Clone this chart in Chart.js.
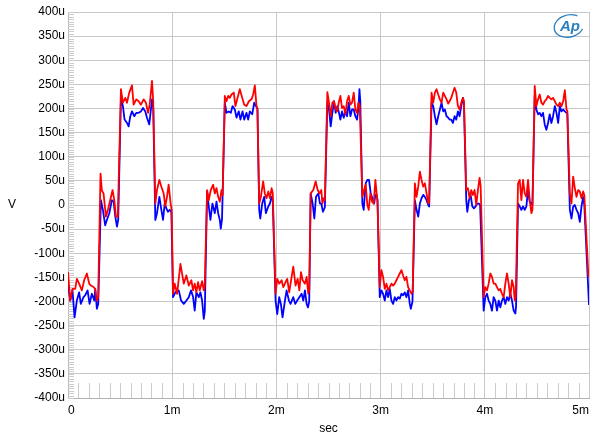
<!DOCTYPE html>
<html>
<head>
<meta charset="utf-8">
<script src="https://cdn.jsdelivr.net/npm/chart.js@4.4.1/dist/chart.umd.min.js"></script>
<style>
  html, body { margin: 0; padding: 0; background: #fff; }
</style>
</head>
<body>
<canvas id="chart" width="600" height="442"></canvas>
<script>
// time in ms, level in uV
const redTime = [
  0.000, 0.021, 0.043, 0.069, 0.085, 0.107, 0.133, 0.155, 0.181, 0.204, 0.220, 0.245, 0.261, 0.277, 0.290,
  0.312, 0.325, 0.341, 0.364, 0.383, 0.405, 0.428, 0.444, 0.460, 0.478,
  0.508, 0.527, 0.550, 0.566, 0.588, 0.614, 0.630, 0.655, 0.678, 0.700, 0.726, 0.748, 0.768, 0.784, 0.806, 0.818,
  0.838, 0.854, 0.877, 0.896, 0.918, 0.934, 0.950, 0.966, 0.985, 0.995,
  1.008, 1.024, 1.047, 1.079, 1.111, 1.136, 1.159, 1.184, 1.200, 1.216, 1.232, 1.248, 1.264, 1.287, 1.303, 1.312,
  1.335, 1.351, 1.370, 1.393, 1.409, 1.425, 1.441, 1.457, 1.473, 1.484,
  1.505, 1.521, 1.537, 1.553, 1.569, 1.591, 1.607, 1.627, 1.649, 1.672, 1.691, 1.713, 1.736, 1.761, 1.777, 1.793, 1.809, 1.818,
  1.835, 1.851, 1.873, 1.889, 1.905, 1.922, 1.938, 1.954, 1.965,
  1.992, 2.008, 2.027, 2.050, 2.066, 2.088, 2.104, 2.123, 2.146, 2.162, 2.184, 2.204, 2.220, 2.236, 2.252, 2.274, 2.290, 2.306, 2.315,
  2.329, 2.354, 2.377, 2.396, 2.415, 2.431, 2.441, 2.454, 2.465,
  2.489, 2.505, 2.521, 2.537, 2.553, 2.566, 2.582, 2.598, 2.614, 2.630, 2.646, 2.662, 2.678, 2.694, 2.710, 2.726, 2.742, 2.758, 2.774, 2.787, 2.800,
  2.825, 2.841, 2.857, 2.873, 2.886, 2.902, 2.918, 2.934, 2.950, 2.963, 2.970,
  2.992, 3.008, 3.024, 3.040, 3.056, 3.072, 3.088, 3.104, 3.120, 3.136, 3.152, 3.168, 3.184, 3.200, 3.216, 3.232, 3.248, 3.264, 3.280, 3.297, 3.308,
  3.329, 3.345, 3.361, 3.377, 3.393, 3.409, 3.425, 3.441, 3.457, 3.466,
  3.489, 3.505, 3.521, 3.537, 3.553, 3.569, 3.585, 3.601, 3.617, 3.633, 3.649, 3.662, 3.678, 3.694, 3.710, 3.726, 3.742, 3.758, 3.774, 3.790, 3.800,
  3.822, 3.838, 3.854, 3.870, 3.886, 3.902, 3.918, 3.934, 3.950, 3.960,
  3.989, 4.005, 4.021, 4.037, 4.053, 4.069, 4.085, 4.101, 4.117, 4.133, 4.149, 4.165, 4.181, 4.197, 4.213, 4.229, 4.245, 4.261, 4.277, 4.287, 4.297,
  4.319, 4.335, 4.351, 4.367, 4.383, 4.399, 4.415, 4.431, 4.447, 4.457,
  4.479, 4.495, 4.511, 4.527, 4.543, 4.559, 4.575, 4.591, 4.607, 4.623, 4.639, 4.655, 4.672, 4.688, 4.704, 4.720, 4.736, 4.752, 4.768, 4.784, 4.792,
  4.816, 4.832, 4.848, 4.864, 4.880, 4.896, 4.912, 4.928, 4.944, 4.955, 4.995
]
const redLevel = [
  -139, -198, -174, -174, -153, -163, -177, -156, -142, -163, -167, -170, -174, -198, -190,
  65, 30, 24, -24, -10, 10, 31, 10, -24, -24,
  240, 212, 222, 212, 233, 248, 208, 219, 215, 208, 219, 212, 191, 208, 257, 215,
  3, 31, 52, 38, 24, -3, 17, 42, 3, -10,
  -184, -163, -184, -122, -163, -146, -167, -156, -177, -163, -181, -160, -177, -158, -177, -170,
  31, 10, 31, 42, 24, 35, 17, 7, 31, 20,
  226, 215, 226, 222, 229, 233, 205, 222, 240, 222, 208, 205, 215, 219, 229, 248, 205, 200,
  3, 17, 49, 24, 14, 28, 14, 35, 25,
  -184, -153, -163, -156, -170, -160, -153, -181, -149, -128, -167, -153, -177, -139, -156, -163, -149, -184, -175,
  24, 31, 49, 31, 24, 31, 3, 14, 10,
  234, 212, 184, 212, 215, 201, 194, 212, 226, 201, 205, 188, 215, 226, 208, 212, 233, 198, 191, 212, 205,
  17, 31, 42, 0, -10, 24, 7, 3, 52, 21, 10,
  -170, -135, -149, -174, -163, -177, -170, -163, -167, -163, -156, -149, -142, -135, -146, -156, -149, -170, -177, -184, -180,
  45, 17, 38, 69, 52, 38, 45, 24, 3, 5,
  233, 212, 233, 240, 229, 219, 212, 233, 226, 219, 210, 215, 222, 233, 243, 233, 205, 198, 212, 222, 215,
  31, 35, 14, 31, 21, 31, 0, 31, 56, 40,
  -191, -170, -177, -163, -142, -149, -163, -163, -170, -177, -174, -184, -191, -163, -142, -163, -191, -156, -170, -198, -190,
  45, 52, 10, 52, 24, 17, 52, 10, -17, -10,
  247, 205, 219, 229, 212, 208, 215, 219, 226, 222, 219, 222, 215, 208, 205, 212, 205, 215, 238, 198, 195,
  24, 3, 59, 35, 17, 31, 28, 14, 28, 20, -150
]

const blueTime = [
  0.000, 0.021, 0.043, 0.063, 0.085, 0.107, 0.123, 0.149, 0.165, 0.188, 0.207, 0.229, 0.252, 0.261, 0.277, 0.290,
  0.316, 0.335, 0.357, 0.373, 0.396, 0.421, 0.438, 0.454, 0.470, 0.482,
  0.508, 0.527, 0.543, 0.566, 0.582, 0.598, 0.614, 0.636, 0.655, 0.678, 0.700, 0.720, 0.742, 0.758, 0.780, 0.806, 0.818,
  0.838, 0.854, 0.877, 0.896, 0.912, 0.928, 0.944, 0.960, 0.976, 0.992,
  1.008, 1.030, 1.063, 1.085, 1.111, 1.136, 1.159, 1.181, 1.200, 1.216, 1.232, 1.255, 1.271, 1.287, 1.303, 1.313,
  1.335, 1.351, 1.367, 1.386, 1.409, 1.425, 1.441, 1.457, 1.466, 1.478,
  1.505, 1.521, 1.543, 1.563, 1.579, 1.601, 1.617, 1.639, 1.655, 1.675, 1.691, 1.713, 1.729, 1.745, 1.768, 1.787, 1.803, 1.818,
  1.835, 1.845, 1.864, 1.883, 1.899, 1.922, 1.938, 1.954, 1.965,
  1.992, 2.008, 2.027, 2.043, 2.059, 2.082, 2.098, 2.120, 2.136, 2.162, 2.181, 2.200, 2.220, 2.242, 2.258, 2.274, 2.290, 2.303, 2.315,
  2.329, 2.348, 2.364, 2.380, 2.402, 2.418, 2.431, 2.447, 2.454, 2.465,
  2.489, 2.505, 2.521, 2.537, 2.553, 2.569, 2.585, 2.601, 2.614, 2.630, 2.646, 2.662, 2.678, 2.694, 2.710, 2.726, 2.742, 2.758, 2.774, 2.787, 2.797, 2.805,
  2.825, 2.838, 2.857, 2.873, 2.889, 2.905, 2.922, 2.938, 2.950, 2.963, 2.970,
  2.992, 3.008, 3.024, 3.040, 3.056, 3.072, 3.088, 3.104, 3.120, 3.136, 3.152, 3.168, 3.184, 3.200, 3.216, 3.232, 3.248, 3.264, 3.280, 3.290, 3.306,
  3.329, 3.345, 3.361, 3.377, 3.393, 3.409, 3.425, 3.441, 3.457, 3.466,
  3.489, 3.505, 3.521, 3.537, 3.553, 3.569, 3.585, 3.601, 3.617, 3.633, 3.649, 3.662, 3.678, 3.694, 3.710, 3.726, 3.742, 3.758, 3.774, 3.790, 3.800,
  3.822, 3.832, 3.848, 3.864, 3.880, 3.896, 3.912, 3.928, 3.944, 3.955,
  3.989, 4.005, 4.021, 4.037, 4.053, 4.069, 4.085, 4.101, 4.117, 4.133, 4.149, 4.165, 4.181, 4.197, 4.213, 4.229, 4.245, 4.261, 4.277, 4.293, 4.300,
  4.319, 4.335, 4.351, 4.367, 4.383, 4.399, 4.415, 4.431, 4.447, 4.457,
  4.479, 4.495, 4.511, 4.527, 4.543, 4.559, 4.575, 4.591, 4.607, 4.623, 4.639, 4.655, 4.672, 4.688, 4.704, 4.720, 4.736, 4.752, 4.768, 4.784, 4.792,
  4.816, 4.832, 4.848, 4.864, 4.880, 4.896, 4.912, 4.928, 4.944, 4.955, 5.000
]
const blueLevel = [
  -163, -198, -177, -233, -198, -181, -205, -191, -187, -177, -205, -184, -198, -174, -215, -205,
  10, -10, -42, -31, -17, 10, 7, -24, -45, -30,
  222, 205, 177, 170, 163, 184, 194, 184, 191, 191, 194, 201, 194, 181, 167, 219, 200,
  -31, -17, 17, -10, -31, 3, -7, -14, -10, -15,
  -191, -181, -177, -198, -205, -198, -191, -177, -190, -219, -181, -191, -181, -198, -236, -220,
  28, -3, -31, 3, -17, 7, -17, -31, -49, -30,
  212, 191, 194, 191, 205, 198, 181, 194, 177, 194, 177, 191, 177, 194, 188, 212, 205, 200,
  -10, -28, 3, 17, -17, -3, 3, 17, 10,
  -198, -226, -191, -205, -233, -198, -177, -198, -205, -191, -205, -198, -191, -184, -198, -177, -205, -212, -200,
  24, 3, -28, 17, 24, 3, 3, -14, -10, -5,
  212, 198, 163, 191, 215, 191, 205, 191, 177, 194, 181, 194, 184, 212, 184, 198, 198, 184, 177, 200, 240, 215,
  3, -10, 45, 52, 52, 24, 14, 3, 21, 21, 10,
  -191, -177, -184, -198, -177, -191, -174, -198, -205, -191, -198, -191, -194, -184, -187, -181, -191, -177, -205, -215, -200,
  10, -10, -24, 3, 14, 21, 17, 10, 0, -3,
  212, 205, 184, 167, 184, 198, 212, 194, 198, 184, 181, 177, 177, 170, 184, 177, 194, 184, 205, 222, 210,
  10, -14, 10, 21, -3, -7, -3, 3, 3, 0,
  -219, -191, -184, -198, -205, -219, -191, -198, -219, -198, -212, -198, -191, -205, -191, -198, -184, -198, -219, -225, -210,
  3, -3, -10, -3, -10, -3, 31, 7, 3, 0,
  226, 198, 188, 191, 184, 191, 167, 156, 170, 188, 170, 184, 205, 191, 170, 205, 194, 198, 194, 191, 190,
  -10, -28, -3, 0, -10, -17, -35, -3, 17, 0, -207
]

const xTickLabels = ['0', '1m', '2m', '3m', '4m', '5m']
const X_MAX = 5
const Y_MIN = -400
const Y_MAX = 400
const Y_STEP = 50

const FONT = 'Liberation Sans, Arial, sans-serif'
const GRID = '#c8c8c8'

const toPoints = (times, levels) => times.map((t, i) => ({ x: t, y: levels[i] }))

// minor ticks, upright "V" label and the Ap badge
const scopeDecor = {
  id: 'scopeDecor',
  beforeDatasetsDraw (chart) {
    const { ctx, chartArea: a, scales: { x, y } } = chart
    ctx.save()
    ctx.strokeStyle = '#cccccc'
    ctx.lineWidth = 1
    ctx.beginPath()
    for (let i = 0; i <= (Y_MAX - Y_MIN) / 5; i++) {
      const py = Math.round(y.getPixelForValue(Y_MIN + i * 5)) + 0.5
      ctx.moveTo(a.left, py)
      ctx.lineTo(a.left + 6, py)
    }
    for (let i = 1; i < X_MAX * 10; i++) {
      if (i % 10 === 0) continue
      const px = Math.round(x.getPixelForValue(i / 10)) + 0.5
      ctx.moveTo(px, a.bottom)
      ctx.lineTo(px, a.bottom - 15)
    }
    ctx.stroke()
    ctx.restore()
  },
  afterDraw (chart) {
    const { ctx, chartArea: a, scales: { y } } = chart
    ctx.save()
    ctx.fillStyle = '#000'
    ctx.font = '12px ' + FONT
    ctx.textAlign = 'center'
    ctx.textBaseline = 'middle'
    ctx.fillText('V', 12, y.getPixelForValue(0))

    const cx = a.right - 20
    const cy = a.top + 14
    ctx.strokeStyle = '#2a7fc0'
    ctx.lineWidth = 1.3
    ctx.beginPath()
    ctx.ellipse(cx, cy, 15, 11, -0.25, 0.6, Math.PI * 1.75)
    ctx.stroke()
    ctx.fillStyle = '#2a7fc0'
    ctx.font = 'italic bold 15px ' + FONT
    ctx.fillText('Ap', cx + 1, cy + 1)
    ctx.restore()
  }
}

new Chart(document.getElementById('chart'), {
  type: 'line',
  data: {
    datasets: [
      {
        label: 'red',
        data: toPoints(redTime, redLevel),
        borderColor: '#ff0000',
        borderWidth: 1.8,
        borderJoinStyle: 'round',
        pointRadius: 0,
        tension: 0
      },
      {
        label: 'blue',
        data: toPoints(blueTime, blueLevel),
        borderColor: '#0000ff',
        borderWidth: 1.8,
        borderJoinStyle: 'round',
        pointRadius: 0,
        tension: 0
      }
    ]
  },
  options: {
    responsive: false,
    animation: false,
    layout: { padding: { top: 12, right: 11, left: 0, bottom: 0 } },
    plugins: {
      legend: { display: false },
      tooltip: { enabled: false }
    },
    scales: {
      x: {
        type: 'linear',
        min: 0,
        max: X_MAX,
        afterFit: (scale) => { scale.height = 44 },
        grid: { color: GRID, drawTicks: false },
        border: { color: '#b4b4b4' },
        ticks: {
          stepSize: 1,
          padding: 5,
          align: 'inner',
          maxRotation: 0,
          color: '#000',
          font: { family: FONT, size: 12 },
          callback: (v) => xTickLabels[v]
        },
        title: {
          display: true,
          text: 'sec',
          color: '#000',
          font: { family: FONT, size: 12 },
          padding: { top: 0, bottom: 6 }
        }
      },
      y: {
        min: Y_MIN,
        max: Y_MAX,
        afterFit: (scale) => { scale.width = 68 },
        grid: { color: GRID, drawTicks: false },
        border: { color: '#b4b4b4' },
        ticks: {
          stepSize: Y_STEP,
          padding: 3,
          color: '#000',
          font: { family: FONT, size: 12 },
          callback: (v) => (v === 0 ? '0' : v + 'u')
        }
      }
    }
  },
  plugins: [scopeDecor]
})
</script>
</body>
</html>
